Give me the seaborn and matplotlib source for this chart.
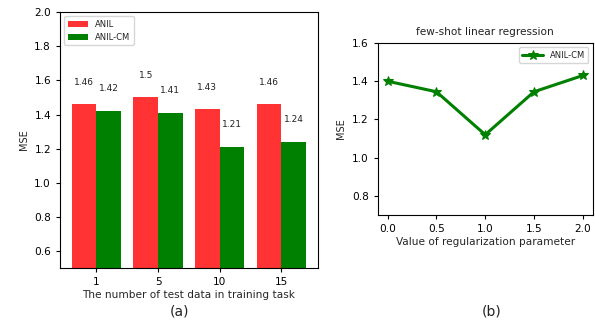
import pandas as pd
import seaborn as sns
import matplotlib.pyplot as plt

# panel (a): MSE per number of test data in training task
test_counts = ["1", "5", "10", "15"]
anil_mse = [1.46, 1.50, 1.43, 1.46]
anil_cm_mse = [1.42, 1.41, 1.21, 1.24]

# panel (b): ANIL-CM vs regularization parameter
reg_values = [0.0, 0.5, 1.0, 1.5, 2.0]
reg_mse = [1.40, 1.345, 1.12, 1.345, 1.43]

sns.set_style("ticks")
plt.rcParams["font.family"] = ["DejaVu Sans"]
plt.rcParams["text.color"] = "#222222"
plt.rcParams["xtick.color"] = "black"
plt.rcParams["ytick.color"] = "black"

df_a = pd.DataFrame({
    "count": test_counts * 2,
    "mse": anil_mse + anil_cm_mse,
    "method": ["ANIL"] * 4 + ["ANIL-CM"] * 4,
})
df_b = pd.DataFrame({"reg": reg_values, "mse": reg_mse})

fig = plt.figure(figsize=(5.95, 3.27), dpi=100)
ax1 = fig.add_axes([0.101, 0.180, 0.433, 0.783])
ax2 = fig.add_axes([0.635, 0.3425, 0.361, 0.526])

sns.barplot(data=df_a, x="count", y="mse", hue="method", ax=ax1,
            palette={"ANIL": "#ff3333", "ANIL-CM": "green"},
            width=0.8, saturation=1, edgecolor="none")
for i, (a, b) in enumerate(zip(anil_mse, anil_cm_mse)):
    ax1.text(i - 0.2, a + 0.13, f"{a:g}", ha="center", va="center", fontsize=6.5)
    ax1.text(i + 0.2, b + 0.13, f"{b:g}", ha="center", va="center", fontsize=6.5)
ax1.set_ylim(0.5, 2.0)
ax1.set_xlim(-0.59, 3.59)
ax1.set_yticks([0.6, 0.8, 1.0, 1.2, 1.4, 1.6, 1.8, 2.0])
ax1.set_xlabel("The number of test data in training task", fontsize=7.6, labelpad=2)
ax1.set_ylabel("MSE", fontsize=7)
ax1.tick_params(labelsize=7.6, length=3, width=0.8)
ax1.legend(loc="upper left", fontsize=6, title=None, frameon=True,
           handlelength=2.5, borderpad=0.4)
for s in ax1.spines.values():
    s.set_color("black")
    s.set_linewidth(0.8)

sns.lineplot(data=df_b, x="reg", y="mse", ax=ax2, color="green",
             marker="*", markersize=7.5, linewidth=2.2, markeredgecolor="green",
             label="ANIL-CM")
ax2.set_ylim(0.7, 1.6)
ax2.set_xlim(-0.1, 2.1)
ax2.set_xticks(reg_values)
ax2.set_yticks([0.8, 1.0, 1.2, 1.4, 1.6])
ax2.set_title("few-shot linear regression", fontsize=7.6, pad=6)
ax2.set_xlabel("Value of regularization parameter", fontsize=7.6, labelpad=2)
ax2.set_ylabel("MSE", fontsize=7)
ax2.tick_params(labelsize=7.6, length=3, width=0.8)
ax2.legend(loc="upper right", fontsize=6, frameon=True, handlelength=2.5)
for s in ax2.spines.values():
    s.set_color("black")
    s.set_linewidth(0.8)

fig.text(0.302, 0.025, "(a)", ha="center", va="bottom", fontsize=10)
fig.text(0.827, 0.025, "(b)", ha="center", va="bottom", fontsize=10)

fig.savefig("out.png", dpi=100)
